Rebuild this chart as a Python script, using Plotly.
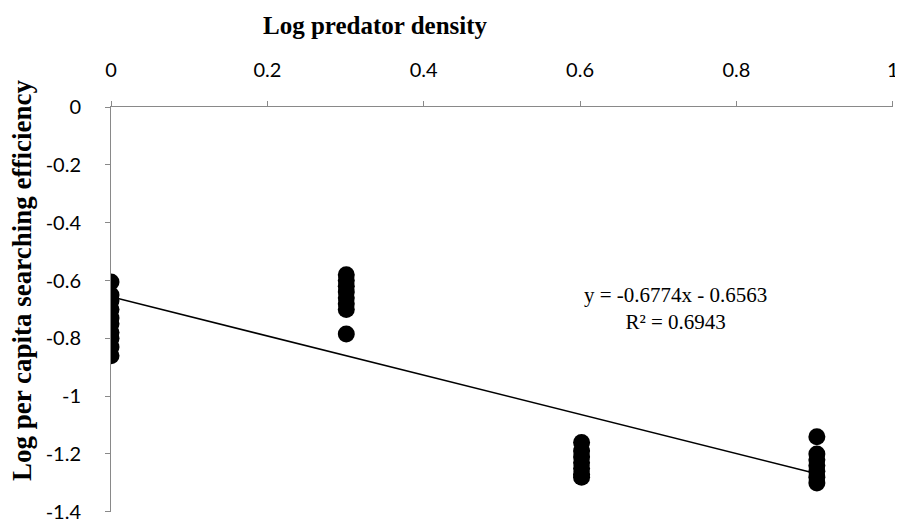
import plotly.graph_objects as go

# Data
x_levels = [0.0, 0.301, 0.602, 0.903]
y_d1 = [-0.605, -0.65, -0.67, -0.70, -0.73, -0.75, -0.78, -0.80, -0.83, -0.86]
y_d2 = [-0.58, -0.60, -0.62, -0.64, -0.66, -0.68, -0.70, -0.785]
y_d4 = [-1.16, -1.19, -1.21, -1.23, -1.25, -1.27, -1.28]
y_d8 = [-1.14, -1.20, -1.22, -1.24, -1.26, -1.28, -1.30]
slope = -0.6774
intercept = -0.6563
r2 = 0.6943
x_ticks = [0, 0.2, 0.4, 0.6, 0.8, 1]
y_ticks = [0, -0.2, -0.4, -0.6, -0.8, -1, -1.2, -1.4]

xs, ys = [], []
for xv, yl in zip(x_levels, [y_d1, y_d2, y_d4, y_d8]):
    xs += [xv] * len(yl)
    ys += yl

fig = go.Figure()
fig.add_trace(go.Scatter(x=xs, y=ys, mode="markers",
                         marker=dict(color="black", size=17, line=dict(width=0)),
                         showlegend=False))
tx = [min(x_levels), max(x_levels)]
fig.add_trace(go.Scatter(x=tx, y=[slope * v + intercept for v in tx], mode="lines",
                         line=dict(color="black", width=1.5), showlegend=False))

tickfont = dict(family="Lato, Open Sans, sans-serif", size=20, color="black")
axis_col = "#898989"
# page body has an 8px default margin; plot area placed at screen x 111..893, y 107..512
PL, PT, PW, PH = 111, 107, 782, 405
fig.update_layout(
    width=895, height=522,
    margin=dict(l=PL - 8, r=895 - (PL - 8) - PW, t=PT - 8, b=522 - (PT - 8) - PH),
    paper_bgcolor="white", plot_bgcolor="white",
    xaxis=dict(range=[0, 1.0004], side="top", tickvals=x_ticks, ticktext=[f"{v:g}" for v in x_ticks],
               showgrid=False, zeroline=False, showline=True, linecolor=axis_col, linewidth=1,
               ticks="outside", ticklen=5, tickcolor=axis_col, tickfont=tickfont,
               ticklabelstandoff=16, ticklabeloverflow="allow", anchor="y", automargin=False),
    yaxis=dict(range=[-1.4006, 0], tickvals=y_ticks, ticktext=[f"{v:g}" for v in y_ticks],
               showgrid=False, zeroline=False, showline=True, linecolor=axis_col, linewidth=1,
               ticks="outside", ticklen=5, tickcolor=axis_col, tickfont=tickfont,
               ticklabelstandoff=20, ticklabeloverflow="allow", automargin=False),
    annotations=[
        dict(text="<b>Log predator density</b>", xref="paper", yref="paper",
             x=(375 - PL) / PW, y=1 + (PT - 25) / PH, xanchor="center", yanchor="middle",
             showarrow=False, font=dict(family="Liberation Serif", size=25, color="black")),
        dict(text="<b>Log per capita searching efficiency</b>", xref="paper", yref="paper",
             x=-(PL - 22) / PW, y=(PT + PH - 281) / PH, xanchor="center", yanchor="middle",
             textangle=-90, showarrow=False, borderpad=0,
             font=dict(family="Liberation Serif", size=27, color="black")),
        dict(text=f"y = {slope}x - {abs(intercept)}<br>R² = {r2}", xref="paper", yref="paper",
             x=(675 - PL) / PW, y=(PT + PH - 308) / PH, xanchor="center", yanchor="middle",
             showarrow=False, align="center",
             font=dict(family="Liberation Serif", size=21, color="black")),
    ],
)
fig.write_html("out.html")
